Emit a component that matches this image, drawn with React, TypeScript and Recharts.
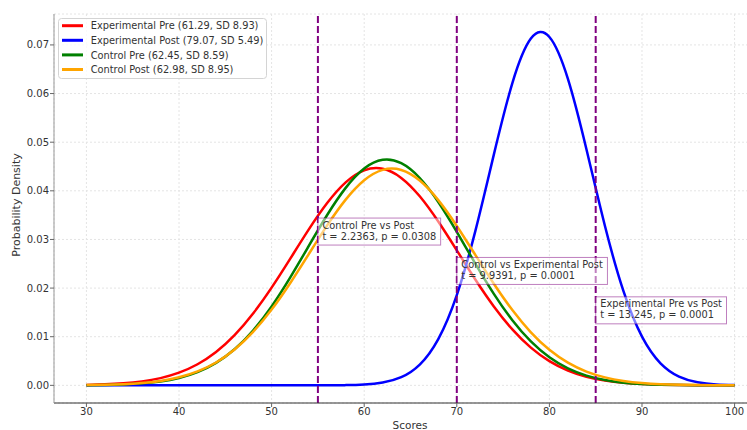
import React, { useLayoutEffect, useRef, useState } from 'react';
import {
  LineChart,
  Line,
  XAxis,
  YAxis,
  CartesianGrid,
  ReferenceLine,
  ReferenceDot,
} from 'recharts';

// score grid the curves were read on
const scores = [
  30, 32, 34, 36, 38, 40, 42, 44, 46, 48, 50, 52, 54, 56, 58, 60, 62, 64,
  66, 68, 70, 72, 74, 76, 78, 80, 82, 84, 86, 88, 90, 92, 94, 96, 98, 100,
];

const experimentalPre = [
  0.0000964, 0.000206, 0.000419, 0.00081, 0.001489, 0.002605, 0.004333, 0.006854,
  0.010314, 0.01476, 0.020087, 0.026003, 0.032012, 0.037481, 0.041739, 0.044206,
  0.044529, 0.04266, 0.03887, 0.033683, 0.02776, 0.021761, 0.016223, 0.011503,
  0.007756, 0.004975, 0.003035, 0.001761, 0.000971, 0.00051, 0.000254, 0.000121,
  0.0000545, 0.0000234, 0.0000096, 0.0000037,
];

const experimentalPost = [
  0, 0, 0, 0, 0, 0, 0, 0, 0, 0, 0, 0.0000004, 0.0000022, 0.0000106, 0.000046,
  0.000174, 0.000578, 0.00168, 0.004272, 0.009517, 0.018564, 0.031713, 0.047442,
  0.062152, 0.071303, 0.071634, 0.063024, 0.048557, 0.032761, 0.019357, 0.010015,
  0.004538, 0.001801, 0.000626, 0.00019, 0.0000507,
];

const controlPre = [
  0.000037, 0.0000867, 0.000193, 0.000406, 0.000809, 0.001527, 0.00273, 0.004625,
  0.007423, 0.011283, 0.016246, 0.022158, 0.028626, 0.035031, 0.040609, 0.044589,
  0.046376, 0.04569, 0.042639, 0.037692, 0.031561, 0.025031, 0.018808, 0.013384,
  0.009022, 0.005761, 0.003484, 0.001996, 0.001083, 0.000557, 0.000271, 0.000125,
  0.0000546, 0.0000226, 0.0000089, 0.0000033,
];

const controlPost = [
  0.0000502, 0.000112, 0.000236, 0.000474, 0.000907, 0.00165, 0.002857, 0.004705,
  0.007371, 0.010986, 0.015575, 0.021005, 0.026948, 0.03289, 0.038187, 0.042176,
  0.044313, 0.044292, 0.042113, 0.038091, 0.032775, 0.026827, 0.02089, 0.015474,
  0.010904, 0.007309, 0.004661, 0.002827, 0.001632, 0.000896, 0.000468, 0.000232,
  0.00011, 0.0000494, 0.0000211, 0.0000086,
];

const xTicks = [30, 40, 50, 60, 70, 80, 90, 100];
const yTicks = [0, 0.01, 0.02, 0.03, 0.04, 0.05, 0.06, 0.07];
const cutoffs = [55, 70, 85];

const series = [
  { key: 'expPre', label: 'Experimental Pre (61.29, SD 8.93)', color: '#ff0000', values: experimentalPre },
  { key: 'expPost', label: 'Experimental Post (79.07, SD 5.49)', color: '#0000ff', values: experimentalPost },
  { key: 'ctrlPre', label: 'Control Pre (62.45, SD 8.59)', color: '#008000', values: controlPre },
  { key: 'ctrlPost', label: 'Control Post (62.98, SD 8.95)', color: '#ffa500', values: controlPost },
];

const annotations = [
  { x: 55, y: 0.0344, lines: ['Control Pre vs Post', 't = 2.2363, p = 0.0308'] },
  { x: 70, y: 0.0263, lines: ['Control vs Experimental Post', 't = 9.9391, p = 0.0001'] },
  { x: 85, y: 0.0182, lines: ['Experimental Pre vs Post', 't = 13.245, p = 0.0001'] },
];

const chartData = scores.map((score, i) => {
  const row: Record<string, number> = { score };
  series.forEach((s) => {
    row[s.key] = s.values[i];
  });
  return row;
});

const FONT = '"DejaVu Sans", Verdana, sans-serif';

const AnnotationBox = ({ cx, cy, lines }: { cx: number; cy: number; lines: string[] }) => {
  const textRef = useRef<SVGTextElement>(null);
  const [w, setW] = useState(Math.max(...lines.map((l) => l.length)) * 5.9);

  useLayoutEffect(() => {
    if (textRef.current) {
      const bb = textRef.current.getBBox();
      if (Math.abs(bb.width - w) > 0.5) setW(bb.width);
    }
  });

  return (
    <g>
      <rect
        x={cx}
        y={cy}
        width={w + 9}
        height={27}
        fill="#ffffff"
        fillOpacity={0.5}
        stroke="#800080"
        strokeOpacity={0.5}
        strokeWidth={1}
      />
      <text ref={textRef} x={cx + 4.5} y={cy} fontSize={9.8} fill="#333" fontFamily={FONT}>
        {lines.map((l, i) => (
          <tspan key={i} x={cx + 4.5} y={cy + 10.5 + i * 11}>
            {l}
          </tspan>
        ))}
      </text>
    </g>
  );
};

// legend drawn as an svg overlay so it uses the same text rendering as the chart
const ChartLegend = () => (
  <svg
    width={747}
    height={430}
    style={{ position: 'absolute', left: 0, top: 0, pointerEvents: 'none' }}
  >
    <rect
      x={58.5}
      y={18.5}
      width={208}
      height={60}
      rx={3}
      fill="#ffffff"
      fillOpacity={0.8}
      stroke="#d4d4d4"
    />
    {series.map((s, i) => {
      const cy = 25.7 + i * 14.6;
      return (
        <g key={s.key}>
          <line x1={62} x2={83} y1={cy} y2={cy} stroke={s.color} strokeWidth={3} />
          <text x={90.7} y={cy + 3.6} fontSize={9.8} fill="#333" fontFamily={FONT}>
            {s.label}
          </text>
        </g>
      );
    })}
  </svg>
);

export default function App() {
  return (
    <div
      style={{
        position: 'absolute',
        left: 0,
        top: 0,
        width: 747,
        height: 430,
        overflow: 'hidden',
        background: '#fff',
        fontFamily: FONT,
      }}
    >
      <LineChart
        width={790}
        height={430}
        data={chartData}
        margin={{ top: 14, right: 23, bottom: 0, left: 0 }}
        style={{ fontFamily: FONT }}
      >
        <CartesianGrid stroke="#e4e4e4" strokeDasharray="2 2" />
        <XAxis
          dataKey="score"
          type="number"
          domain={[26.5, 103.5]}
          ticks={xTicks}
          allowDataOverflow
          height={27}
          tickSize={4}
          tickMargin={1}
          stroke="#333"
          tick={{ fontSize: 10, fill: '#333' }}
          tickLine={{ stroke: '#666' }}
          label={{
            value: 'Scores',
            content: () => (
              <text x={410} y={429.3} textAnchor="middle" fontSize={10.5} fill="#333" fontFamily={FONT}>
                Scores
              </text>
            ),
          }}
        />
        <YAxis
          type="number"
          domain={[-0.00363, 0.07636]}
          ticks={yTicks}
          allowDataOverflow
          width={54}
          tickSize={4}
          tickMargin={1}
          stroke="#999"
          tick={{ fontSize: 10, fill: '#333' }}
          tickLine={{ stroke: '#666' }}
          tickFormatter={(v: number) => v.toFixed(2)}
          label={{
            value: 'Probability Density',
            content: () => (
              <text
                x={20}
                y={205}
                transform="rotate(-90 20 205)"
                textAnchor="middle"
                fontSize={11}
                fill="#333"
                fontFamily={FONT}
              >
                Probability Density
              </text>
            ),
          }}
        />
        {series.map((s) => (
          <Line
            key={s.key}
            type="natural"
            dataKey={s.key}
            stroke={s.color}
            strokeWidth={2.5}
            dot={false}
            activeDot={false}
            isAnimationActive={false}
          />
        ))}
        {cutoffs.map((c) => (
          <ReferenceLine key={c} x={c} stroke="#800080" strokeWidth={2} strokeDasharray="7 3" />
        ))}
        {annotations.map((a, i) => (
          <ReferenceDot
            key={i}
            x={a.x}
            y={a.y}
            r={0}
            ifOverflow="visible"
            shape={(p: any) => <AnnotationBox cx={p.cx} cy={p.cy} lines={a.lines} />}
          />
        ))}
      </LineChart>
      <ChartLegend />
    </div>
  );
}
